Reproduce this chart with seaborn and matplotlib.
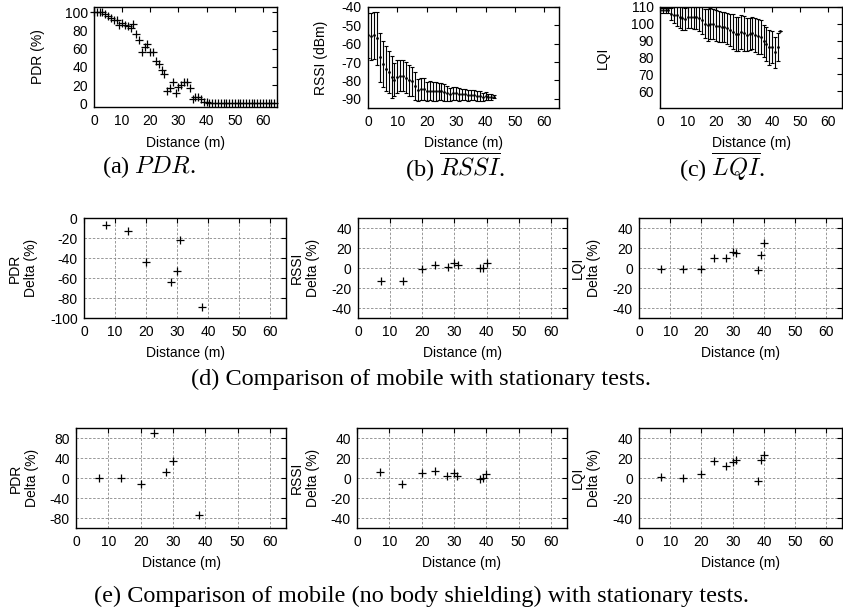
import matplotlib
matplotlib.use("Agg")
import matplotlib.pyplot as plt
import seaborn as sns
import numpy as np
import pandas as pd

# ---------------- data ----------------
pdr_dist = list(range(0, 65))
pdr_vals = [100, 100, 100, 100, 98, 96, 94, 92, 92, 86, 88, 86, 85, 83, 87,
            76, 70, 57, 62, 65, 56, 56, 47, 43, 37, 32, 14, 16.5, 24, 11,
            18, 20, 24, 24, 17, 4.5, 6.5, 6.5, 4.5, 2, 1] + [0] * 24

rssi_dist = list(range(0, 44))
rssi_mean = [-55.5, -56, -55.5, -57, -67.5, -71, -73.5, -75.5, -78, -79.5,
             -78, -77.5, -77.5, -78.5, -80, -80.5, -83, -85, -84.5, -84.5,
             -86, -85.5, -86, -86, -86, -86, -86.5, -87, -87.5, -87,
             -87, -87.5, -87.5, -87.5, -88, -88, -88, -88.5, -88.5, -89,
             -88.5, -89, -89, -88.8]
rssi_std = [12.5, 12.7, 13.0, 14.5, 13.5, 12.5, 12, 11.5, 11.5, 9,
            9, 8.5, 8.5, 8.5, 8.5, 8, 7.5, 6, 6, 6,
            5, 5, 5, 5, 4.8, 4.5, 4.5, 4, 3.5, 3.5,
            3.5, 3.5, 3, 3, 3, 2.8, 2.8, 2.5, 2.5, 2,
            2, 1.5, 1.5, 0.8]

lqi_dist = list(range(0, 44))
lqi_mean = [108, 108, 108, 108, 106, 105.4, 105, 104, 103.5, 103,
            104, 104, 104, 104, 103.5, 102.5, 100, 99.3, 100, 100,
            99, 98.5, 98.3, 98, 97.3, 96.5, 95.3, 94, 94, 95,
            94.3, 93.5, 94, 94.3, 93.3, 92.5, 92, 90, 88, 86,
            86, 83, 86, 96]
lqi_std = [1.5, 1.5, 1.5, 1.5, 3.5, 5, 6, 6.5, 7, 6.5,
           6.7, 6.7, 7, 7, 7.5, 8.5, 8.7, 9.3, 9.3, 9,
           9, 9, 9, 9, 9.3, 9.5, 10.3, 10, 10, 10,
           10.3, 9.7, 9.5, 9.5, 10, 10.3, 10, 9.5, 10.3, 10.3,
           9.5, 9, 8.3, 0]

delta_pdr_dist = [7, 14, 20, 28, 30, 31, 38]
delta_pdr_vals = [-7, -13, -44, -64, -53, -22, -89]
delta_rssi_dist = [7, 14, 20, 24, 28, 30, 31, 38, 39, 40]
delta_rssi_vals = [-13, -13, -0.7, 2.7, 1.3, 4.7, 3, 0, 0, 4.7]
delta_lqi_dist = [7, 14, 20, 24, 28, 30, 31, 38, 39, 40]
delta_lqi_vals = [-1, -1, -1, 10.3, 10, 16.3, 14.7, -2, 13.3, 25]

nb_pdr_dist = [7, 14, 20, 24, 28, 30, 38]
nb_pdr_vals = [0, 0, -11, 91, 12, 34, -74]
nb_rssi_dist = [7, 14, 20, 24, 28, 30, 31, 38, 39, 40]
nb_rssi_vals = [6, -6, 5.3, 7.3, 2, 4.7, 2, -1, 0.5, 4]
nb_lqi_dist = [7, 14, 20, 24, 28, 30, 31, 38, 39, 40]
nb_lqi_vals = [0.7, 0.3, 4, 17, 12, 16.3, 17.7, -2.7, 18.3, 22.7]

x_ticks = [0, 10, 20, 30, 40, 50, 60]

# ---------------- style ----------------
sns.set_theme(style="white")
plt.rcParams['font.family'] = ['Liberation Sans', 'DejaVu Sans']
plt.rcParams['axes.unicode_minus'] = False
plt.rcParams['mathtext.fontset'] = 'cm'

W, H = 843, 609
fig = plt.figure(figsize=(W / 100, H / 100), dpi=100)


def add_ax(l, r, t, b):
    return fig.add_axes([l / W, 1 - b / H, (r - l) / W, (b - t) / H])


def style(ax, ylim, yticks, grid=False):
    ax.set_xlim(0, 65)
    ax.set_ylim(*ylim)
    ax.set_xticks(x_ticks)
    ax.set_yticks(yticks)
    for s in ax.spines.values():
        s.set_visible(True)
        s.set_color('black')
        s.set_linewidth(1.0)
    ax.tick_params(direction='in', length=3.5, width=0.8, top=True, right=True,
                   labelsize=10, colors='black', pad=5)
    ax.tick_params(axis='y', pad=4.5)
    if grid:
        ax.grid(True, color='#888888', linestyle=(0, (3, 2)), linewidth=0.6)
        ax.set_axisbelow(True)
    else:
        ax.grid(False)


def labels(ax, ylab, ylx, xly):
    ax.set_xlabel('Distance (m)', fontsize=10, va='center', color='black')
    ax.xaxis.set_label_coords(0.5, xly)
    ax.set_ylabel(ylab, fontsize=10, va='center', ha='center',
                  multialignment='center', color='black')
    ax.yaxis.set_label_coords(ylx, 0.5)


def plus(ax, x, y, s=32):
    df = pd.DataFrame({'x': x, 'y': y})
    sns.scatterplot(data=df, x='x', y='y', marker='+', color='black', s=s,
                    linewidth=0.9, ax=ax, clip_on=False, zorder=3)
    ax.set_xlabel('')
    ax.set_ylabel('')


# (a) PDR
ax = add_ax(94, 277, 7, 107)
plus(ax, pdr_dist, pdr_vals, s=30)
style(ax, (-4, 106), [0, 20, 40, 60, 80, 100])
labels(ax, 'PDR (%)', -0.306, -0.36)

# (b) RSSI
ax = add_ax(368, 559, 7, 108)
ax.errorbar(rssi_dist, rssi_mean, yerr=rssi_std, fmt='none', ecolor='black',
            elinewidth=0.8, capsize=1.5, capthick=0.8)
sns.scatterplot(x=rssi_dist, y=rssi_mean, color='black', s=4, linewidth=0, ax=ax, zorder=3)
style(ax, (-95, -40), [-90, -80, -70, -60, -50, -40])
labels(ax, 'RSSI (dBm)', -0.246, -0.35)

# (c) LQI
ax = add_ax(660, 842, 7, 108)
ax.errorbar(lqi_dist, lqi_mean, yerr=lqi_std, fmt='none', ecolor='black',
            elinewidth=0.8, capsize=1.5, capthick=0.8)
sns.scatterplot(x=lqi_dist, y=lqi_mean, color='black', s=4, linewidth=0, ax=ax, zorder=3)
style(ax, (50, 110), [60, 70, 80, 90, 100, 110])
labels(ax, 'LQI', -0.313, -0.35)

# (d) row
ax = add_ax(84, 286, 218, 318)
plus(ax, delta_pdr_dist, delta_pdr_vals, s=28)
style(ax, (-100, 0), [-100, -80, -60, -40, -20, 0], grid=True)
labels(ax, 'PDR\nDelta (%)', -0.302, -0.35)

ax = add_ax(358, 567, 218, 318)
plus(ax, delta_rssi_dist, delta_rssi_vals, s=28)
style(ax, (-50, 50), [-40, -20, 0, 20, 40], grid=True)
labels(ax, 'RSSI\nDelta (%)', -0.254, -0.35)

ax = add_ax(639, 842, 218, 318)
plus(ax, delta_lqi_dist, delta_lqi_vals, s=28)
style(ax, (-50, 50), [-40, -20, 0, 20, 40], grid=True)
labels(ax, 'LQI\nDelta (%)', -0.26, -0.35)

# (e) row
ax = add_ax(76, 286, 428, 528)
plus(ax, nb_pdr_dist, nb_pdr_vals, s=28)
style(ax, (-100, 100), [-80, -40, 0, 40, 80], grid=True)
labels(ax, 'PDR\nDelta (%)', -0.248, -0.35)

ax = add_ax(357, 567, 428, 528)
plus(ax, nb_rssi_dist, nb_rssi_vals, s=28)
style(ax, (-50, 50), [-40, -20, 0, 20, 40], grid=True)
labels(ax, 'RSSI\nDelta (%)', -0.248, -0.35)

ax = add_ax(639, 842, 428, 528)
plus(ax, nb_lqi_dist, nb_lqi_vals, s=28)
style(ax, (-50, 50), [-40, -20, 0, 20, 40], grid=True)
labels(ax, 'LQI\nDelta (%)', -0.26, -0.35)

# captions
cap = dict(fontsize=17.5, family=['Liberation Serif', 'DejaVu Serif'],
           ha='center', va='center', color='black')
fig.text(149 / W, 1 - 167 / H, r'(a) $PDR$.', **cap)
fig.text(455 / W, 1 - 167 / H, r'(b) $\overline{RSSI}$.', **cap)
fig.text(722 / W, 1 - 167 / H, r'(c) $\overline{LQI}$.', **cap)
fig.text(421 / W, 1 - 379 / H, '(d) Comparison of mobile with stationary tests.', **cap)
fig.text(421 / W, 1 - 596 / H,
         '(e) Comparison of mobile (no body shielding) with stationary tests.', **cap)

fig.savefig('out.png', dpi=100, facecolor='white')
